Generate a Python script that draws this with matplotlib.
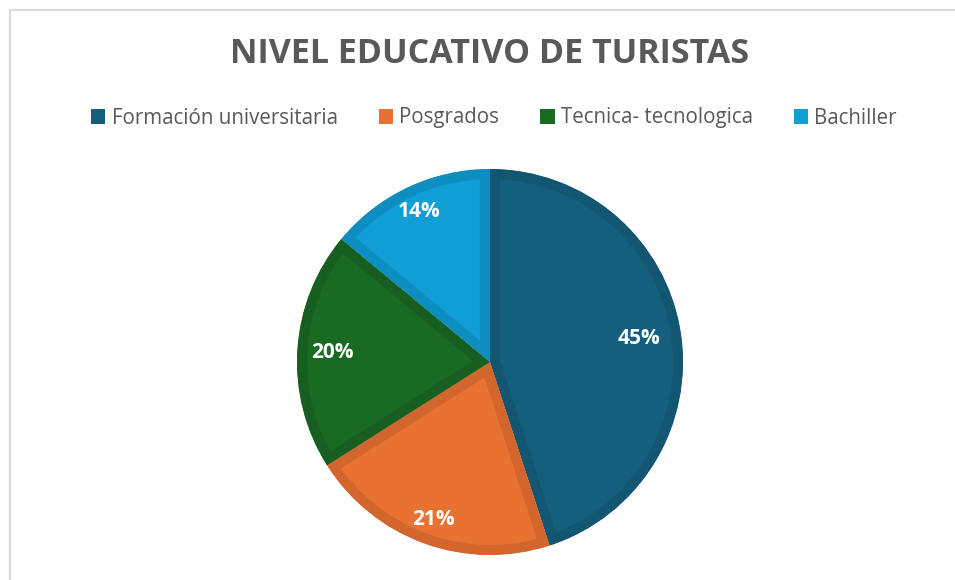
import numpy as np
import matplotlib
matplotlib.use("Agg")
import matplotlib.pyplot as plt
from matplotlib.patches import Rectangle, Patch, Wedge

plt.rcParams["font.family"] = ["Open Sans", "DejaVu Sans"]

# data
categories = ["Formación universitaria", "Posgrados", "Tecnica- tecnologica", "Bachiller"]
values = [45, 21, 20, 14]
colors = ["#155F7E", "#E97132", "#196B24", "#0F9ED5"]
edge_colors = ["#135672", "#D3662D", "#175F21", "#0E8EC0"]
label_radius = [0.78, 0.87, 0.82, 0.86]

fig = plt.figure(figsize=(9.55, 5.8), dpi=100)
fig.patch.set_facecolor("white")

# chart frame
fig.patches.append(Rectangle((9.5 / 955, -0.05), 1.1, (580 - 9.5) / 580 + 0.05,
                             transform=fig.transFigure, fill=False,
                             edgecolor="#D9D9D9", linewidth=1.5))

ax = fig.add_axes([(490 - 193) / 955, (580 - 362 - 193) / 580, 386 / 955, 386 / 580])

wedges, texts, autotexts = ax.pie(
    values, colors=colors, startangle=90, counterclock=False,
    autopct="%1.0f%%", pctdistance=0.8,
    textprops=dict(color="white", fontsize=15, fontweight="bold"),
)
ax.set_aspect("equal")
ax.set_xlim(-1, 1)
ax.set_ylim(-1, 1)

# darker inner border, stroke clipped to the slice itself
for w, ec in zip(wedges, edge_colors):
    w.set_edgecolor(ec)
    w.set_linewidth(14.5)
    clip = Wedge(w.center, w.r, w.theta1, w.theta2, transform=ax.transData)
    w.set_clip_on(True)
    w.set_clip_path(clip)

for w, t, r in zip(wedges, autotexts, label_radius):
    ang = np.deg2rad((w.theta1 + w.theta2) / 2)
    t.set_position((r * np.cos(ang), r * np.sin(ang)))

fig.text(490 / 955, 1 - 54 / 580, "NIVEL EDUCATIVO DE TURISTAS", ha="center", va="center",
         fontsize=24.5, fontweight="bold", color="#595959")

handles = [Patch(facecolor=c, edgecolor="none") for c in colors]
fig.legend(handles, categories, loc="center", bbox_to_anchor=(494 / 955, 1 - 118 / 580),
           ncol=4, frameon=False, fontsize=14.8, handlelength=0.7, handleheight=0.7,
           handletextpad=0.3, columnspacing=2.0, labelcolor="#595959")

fig.savefig("out.png", dpi=100)
